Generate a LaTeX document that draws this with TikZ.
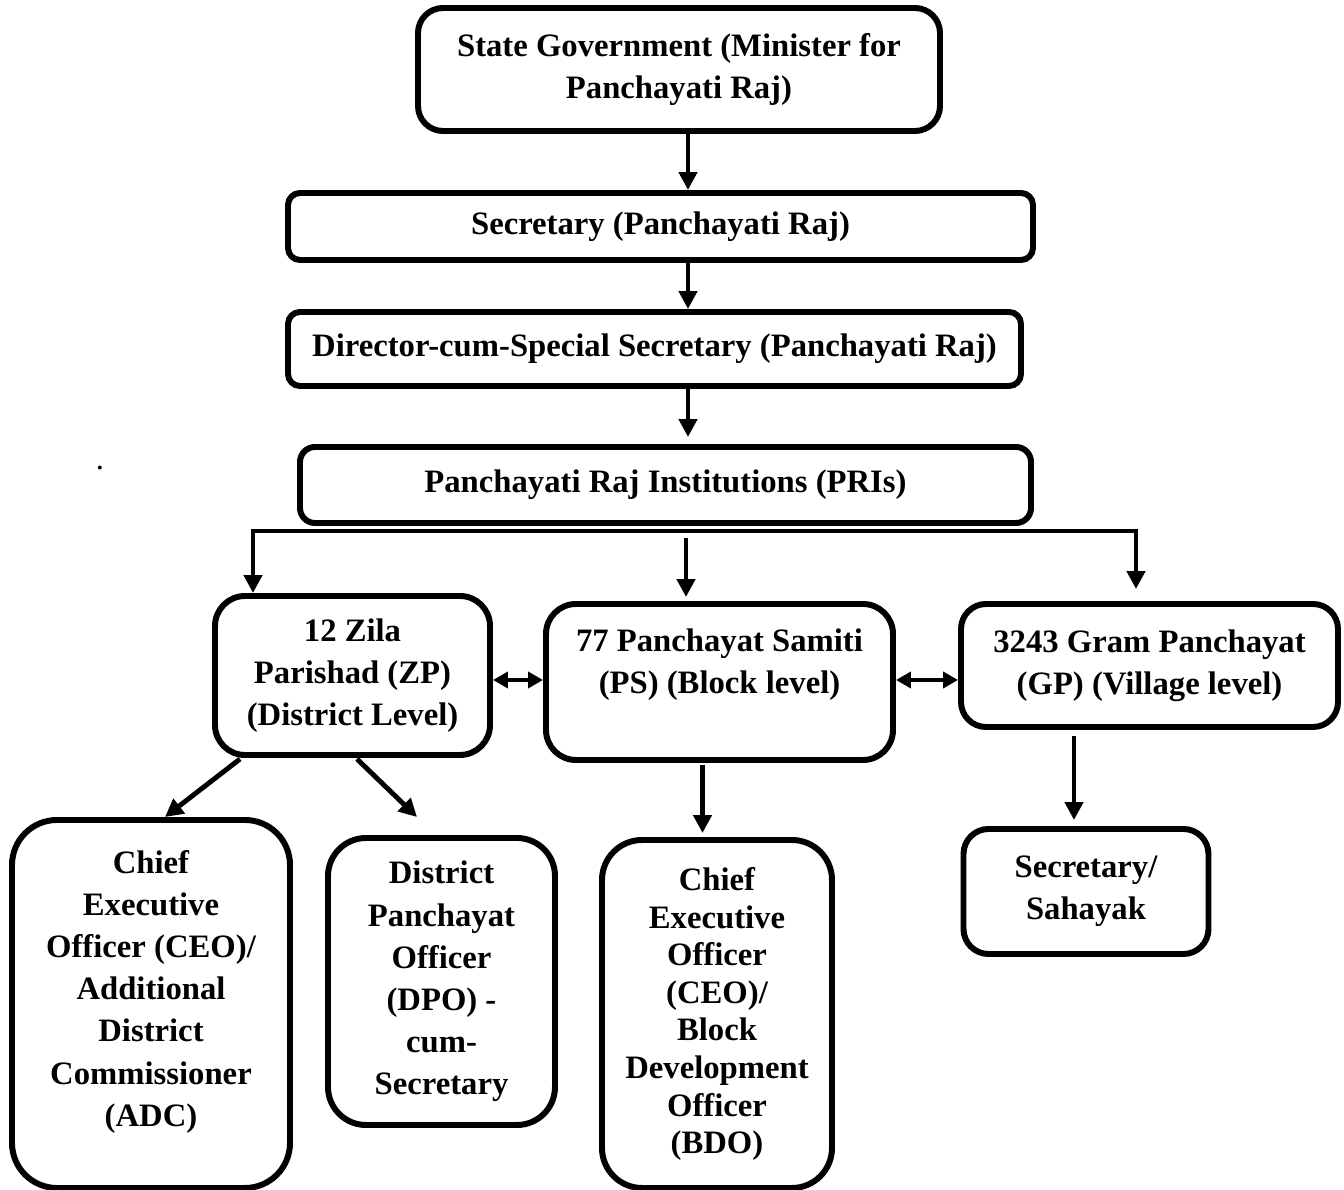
\documentclass[tikz,border=0pt]{standalone}
\usepackage{fontspec}
\setmainfont{Liberation Serif}
\usetikzlibrary{arrows.meta}

\begin{document}
\begin{tikzpicture}[
        box/.style={draw, line width=1.7pt, align=center, inner sep=0pt},
        arr/.style={line width=1.4pt, -{Triangle[length=1.8mm,width=1.8mm]}},
        darr/.style={line width=1.4pt, {Triangle[length=1.5mm,width=1.6mm]}-{Triangle[length=1.5mm,width=1.6mm]}},
        font=\fontsize{9.3}{12}\selectfont\bfseries
    ]
    \useasboundingbox (0,0) rectangle (13.44,-11.90);

    % Top chain
    \node[box, rounded corners=0.25cm, minimum width=5.22cm, minimum height=1.23cm] (gov) at (6.79,-0.695)
        {State Government (Minister for\\Panchayati Raj)};
    \node[box, rounded corners=0.12cm, minimum width=7.45cm, minimum height=0.67cm] (sec) at (6.605,-2.265)
        {Secretary (Panchayati Raj)};
    \node[box, rounded corners=0.12cm, minimum width=7.33cm, minimum height=0.74cm] (dir) at (6.545,-3.49)
        {Director-cum-Special Secretary (Panchayati Raj)};
    \node[box, rounded corners=0.15cm, minimum width=7.31cm, minimum height=0.76cm] (pri) at (6.655,-4.85)
        {Panchayati Raj Institutions (PRIs)};
    \node[anchor=base, font=\fontsize{9.3}{12}\selectfont] (dot) at (1.00,-4.70) {.};

    % Three tiers
    \node[box, rounded corners=0.3cm, minimum width=2.75cm, minimum height=1.59cm] (zp) at (3.525,-6.755)
        {12 Zila\\Parishad (ZP)\\(District Level)};
    \node[box, rounded corners=0.3cm, minimum width=3.47cm, minimum height=1.56cm] (ps) at (7.195,-6.82)
        {77 Panchayat Samiti\\(PS) (Block level)\\\mbox{}};
    \node[box, rounded corners=0.25cm, minimum width=3.77cm, minimum height=1.23cm] (gp) at (11.495,-6.655)
        {3243 Gram Panchayat\\(GP) (Village level)};

    % Officers
    \node[box, rounded corners=0.45cm, minimum width=2.78cm, minimum height=3.68cm] (ceo) at (1.51,-10.04)
        {Chief\\Executive\\Officer (CEO)/\\Additional\\District\\Commissioner\\(ADC)\\[-3pt]\mbox{}};
    \node[box, rounded corners=0.38cm, minimum width=2.27cm, minimum height=2.87cm] (dpo) at (4.415,-9.815)
        {District\\Panchayat\\Officer\\(DPO) -\\cum-\\Secretary};
    \node[box, rounded corners=0.4cm, minimum width=2.30cm, minimum height=3.48cm,
          font=\fontsize{9.3}{10.7}\selectfont\bfseries] (bdo) at (7.17,-10.14)
        {Chief\\Executive\\Officer\\(CEO)/\\Block\\Development\\Officer\\(BDO)};
    \node[box, rounded corners=0.25cm, minimum width=2.45cm, minimum height=1.25cm] (sah) at (10.86,-8.915)
        {Secretary/\\Sahayak};

    % Connectors
    \coordinate (spine) at (6.88,0);
    \draw[arr] (gov.south -| spine) -- (sec.north -| spine);
    \draw[arr] (sec.south -| spine) -- (dir.north -| spine);
    \draw[arr, shorten >=0.7mm] (dir.south -| spine) -- (pri.north -| spine);

    \coordinate (busL) at (2.53,-5.31);
    \coordinate (busR) at (11.36,-5.31);
    \coordinate (busM) at (6.86,-5.38);
    \draw[line width=1.4pt, line cap=rect] (busL) -- (busR);
    \draw[arr] (busL) -- (busL |- zp.north);
    \draw[arr, shorten >=1.2mm] (busR) -- (busR |- gp.north);
    \draw[arr, shorten >=0.4mm] (busM) -- (busM |- ps.north);

    \coordinate (mid) at (0,-6.80);
    \draw[darr] (zp.east |- mid) -- (ps.west |- mid);
    \draw[darr] (ps.east |- mid) -- (gp.west |- mid);

    \draw[arr] ([xshift=2.8mm,yshift=-0.1mm]zp.south west) -- ([xshift=1.4mm]ceo.north);
    \draw[arr] ([xshift=0.45mm,yshift=-0.1mm]zp.south) -- ([xshift=-2.45mm,yshift=1.8mm]dpo.north);
    \draw[arr, shorten <=0.2mm, shorten >=0.4mm] ([xshift=-1.7mm]ps.south) -- ([xshift=-1.7mm]ps.south |- bdo.north);
    \draw[arr, shorten <=0.6mm, shorten >=0.6mm] ([xshift=-1.2mm]sah.north |- gp.south) -- ([xshift=-1.2mm]sah.north);
\end{tikzpicture}
\end{document}
